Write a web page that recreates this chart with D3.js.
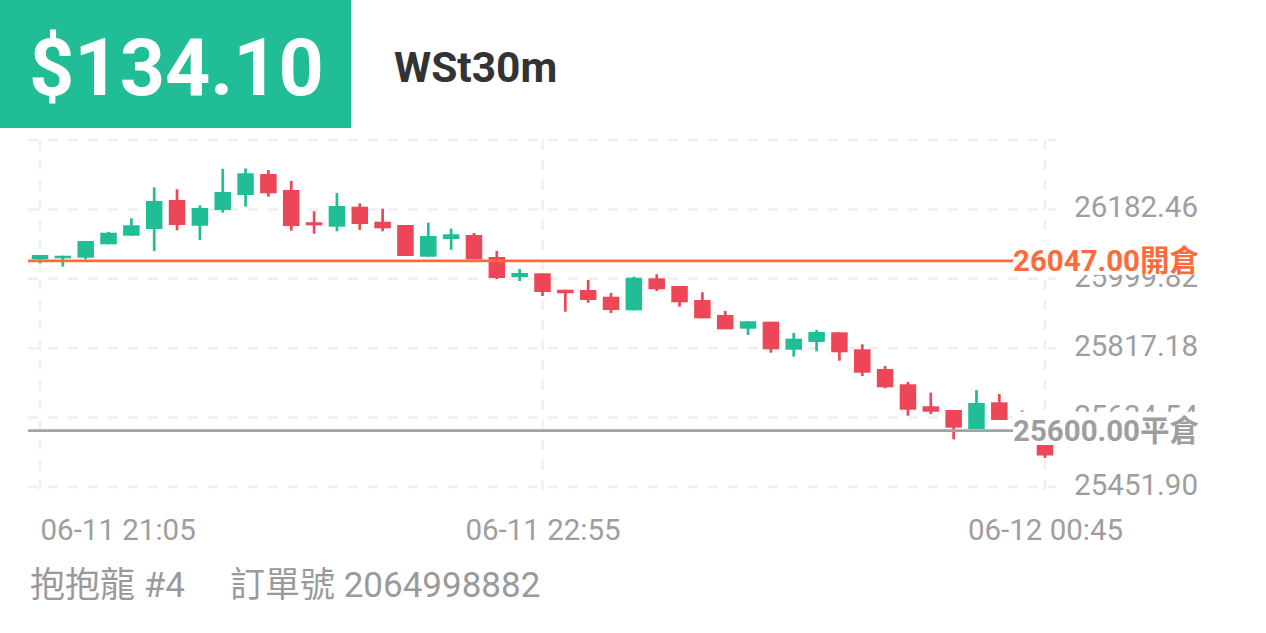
<!DOCTYPE html>
<html>
<head>
<meta charset="utf-8">
<script src="https://cdn.jsdelivr.net/npm/d3@7"></script>
<style>
  html, body { margin: 0; padding: 0; background: #fff; }
  svg { display: block; }
  text { font-family: Roboto, "Noto Sans CJK TC", "Noto Sans", sans-serif; }
</style>
</head>
<body>
<svg id="chart" width="1266" height="633"></svg>
<script>
// ---- data ----
const startTime = "2024-06-11T21:05:00";
const openVals  = [26051.1,26053.8,26055.4,26090.6,26113.3,26130.9,26207.2,26139.6,26180.9,26220.4,26275.6,26233.5,26148.5,26136.9,26189.6,26150.1,26141.4,26058.0,26104.6,26115.1,26057.2,26004.0,26014.3,25971.1,25970.3,25952.7,25916.9,26001.1,25980.9,25944.0,25904.6,25868.5,25886.9,25813.2,25833.5,25859.0,25814.3,25762.4,25722.2,25664.3,25654.5,25604.5,25674.8,25638.8,25562.4];
const highVals  = [26062.5,26060.6,26099.3,26123.0,26159.0,26240.6,26235.4,26193.3,26289.3,26290.1,26286.2,26257.2,26177.5,26225.6,26198.5,26184.3,26141.4,26147.5,26131.7,26120.4,26073.0,26025.6,26014.3,25971.1,25996.7,25962.5,26005.4,26011.7,25980.9,25964.3,25915.1,25888.0,25886.9,25857.2,25865.1,25859.0,25827.4,25770.3,25728.2,25700.1,25654.5,25707.2,25696.7,25653.2,25562.4];
const lowVals   = [26040.6,26031.7,26051.1,26090.6,26113.3,26073.0,26127.5,26101.9,26173.8,26189.6,26215.9,26126.4,26118.5,26124.8,26128.3,26124.8,26059.8,26058.0,26076.4,26051.1,25999.3,25994.0,25954.6,25913.2,25936.9,25909.8,25916.9,25967.7,25926.4,25895.9,25866.9,25851.9,25805.3,25794.8,25809.0,25784.3,25744.0,25711.7,25639.5,25644.0,25577.4,25604.5,25628.2,25586.1,25528.2];
const closeVals = [26062.5,26060.6,26099.3,26121.1,26140.6,26204.6,26141.4,26186.1,26228.3,26277.5,26224.8,26138.8,26140.6,26191.4,26144.0,26132.7,26059.8,26112.5,26116.9,26051.1,26001.9,26015.1,25965.1,25961.7,25944.0,25917.7,26002.7,25972.2,25938.0,25895.9,25866.9,25888.0,25814.3,25842.2,25859.8,25806.4,25752.7,25714.3,25655.3,25650.1,25608.0,25673.0,25628.2,25596.6,25534.8];
const yGridVals = [25451.90,25634.54,25817.18,25999.82,26182.46,26365.10];
const yTickLabels = ["25451.90","25634.54","25817.18","25999.82","26182.46"];
const xTickIndex = [0,22,44];
const openPrice = 26047.00, openLabel = "26047.00開倉";
const closePrice = 25600.00, closeLabel = "25600.00平倉";
const priceText = "$134.10", symbolText = "WSt30m";
const footerName = "抱抱龍 #4", footerOrder = "訂單號 2064998882";

// ---- build ----
const t0 = new Date(startTime);
const times = openVals.map((_, i) => d3.timeMinute.offset(t0, 5 * i));
const candles = times.map((t, i) => ({t, o: openVals[i], h: highVals[i], l: lowVals[i], c: closeVals[i]}));

const svg = d3.select("#chart");
const GREEN = "#20bd96", RED = "#ed4657";
const plotL = 40, plotR = 1045, plotT = 140, plotB = 487;

const x = d3.scaleTime().domain([times[0], times[times.length - 1]]).range([plotL, plotR]);
const y = d3.scaleLinear().domain([yGridVals[0], yGridVals[yGridVals.length - 1]]).range([plotB, plotT]);

// grid
const grid = svg.append("g");
grid.selectAll("line.h").data(yGridVals).join("line").attr("class", "h")
  .attr("x1", 28).attr("x2", 1056)
  .attr("y1", d => y(d)).attr("y2", d => y(d))
  .attr("stroke", "#efefef").attr("stroke-width", 2.5).attr("stroke-dasharray", "10,10");
grid.selectAll("line.v").data(xTickIndex).join("line").attr("class", "v")
  .attr("x1", d => x(times[d])).attr("x2", d => x(times[d]))
  .attr("y1", plotT).attr("y2", 491)
  .attr("stroke", "#efefef").attr("stroke-width", 2.5).attr("stroke-dasharray", "10,10");

// y axis labels
const yAxis = d3.axisRight(y)
  .tickValues(yGridVals.slice(0, yTickLabels.length))
  .tickFormat((d, i) => yTickLabels[i])
  .tickSize(0);
const ya = svg.append("g").attr("transform", "translate(1198,0)").call(yAxis);
ya.select(".domain").remove();
ya.selectAll("text")
  .attr("x", 0).attr("dy", null).attr("y", 7.5)
  .attr("text-anchor", "end")
  .attr("fill", "#9e9e9e")
  .style("font-size", "29.5px").style("font-family", 'Roboto, "Noto Sans CJK TC", sans-serif');

// x axis labels
const fmt = d3.timeFormat("%m-%d %H:%M");
const xAxis = d3.axisBottom(x)
  .tickValues(xTickIndex.map(i => times[i]))
  .tickFormat(fmt).tickSize(0);
const xa = svg.append("g").attr("transform", "translate(0,540)").call(xAxis);
xa.select(".domain").remove();
xa.selectAll("text")
  .attr("y", 0).attr("dy", null)
  .attr("fill", "#9e9e9e")
  .style("font-size", "29.5px").style("font-family", 'Roboto, "Noto Sans CJK TC", sans-serif')
  .attr("text-anchor", (d, i) => i === 0 ? "start" : "middle");

// candles
const bodyW = 16.5, wickW = 2.7;
const cg = svg.append("g");
const cs = cg.selectAll("g").data(candles).join("g");
cs.append("rect")
  .attr("x", d => x(d.t) - wickW / 2).attr("width", wickW)
  .attr("y", d => y(d.h)).attr("height", d => Math.max(0.5, y(d.l) - y(d.h)))
  .attr("fill", d => d.c >= d.o ? GREEN : RED);
cs.append("rect")
  .attr("x", d => x(d.t) - bodyW / 2).attr("width", bodyW)
  .attr("y", d => y(Math.max(d.o, d.c)))
  .attr("height", d => Math.max(1.5, Math.abs(y(d.o) - y(d.c))))
  .attr("fill", d => d.c >= d.o ? GREEN : RED);

// price lines
const lines = [
  {v: openPrice, label: openLabel, color: "#fd6b3a", text: "#fd6b3a"},
  {v: closePrice, label: closeLabel, color: "#a3a3a3", text: "#9e9e9e"}
];
lines.forEach(L => {
  const yy = y(L.v);
  svg.append("line").attr("x1", 28).attr("x2", 1013).attr("y1", yy).attr("y2", yy)
    .attr("stroke", L.color).attr("stroke-width", 2.8);
  svg.append("rect").attr("x", 1013).attr("y", yy - 19).attr("width", 190).attr("height", 33)
    .attr("fill", "#fff");
  svg.append("text").attr("x", 1199).attr("y", yy + 10)
    .attr("text-anchor", "end").attr("fill", L.text)
    .style("font-size", "29.5px").style("font-weight", "bold")
    .text(L.label);
});

// header
svg.append("rect").attr("x", 0).attr("y", 0).attr("width", 351).attr("height", 128).attr("fill", GREEN);
svg.append("text").attr("x", 29).attr("y", 95).attr("fill", "#fff")
  .style("font-size", "79px").style("font-weight", "bold").text(priceText);
svg.append("text").attr("x", 394).attr("y", 82).attr("fill", "#333")
  .style("font-size", "42.5px").style("font-weight", "bold").text(symbolText);

// footer
svg.append("text").attr("x", 30).attr("y", 597).attr("fill", "#9a9a9a")
  .style("font-size", "35px").text(footerName);
svg.append("text").attr("x", 230).attr("y", 597).attr("fill", "#9a9a9a")
  .style("font-size", "35px").text(footerOrder);
</script>
</body>
</html>
